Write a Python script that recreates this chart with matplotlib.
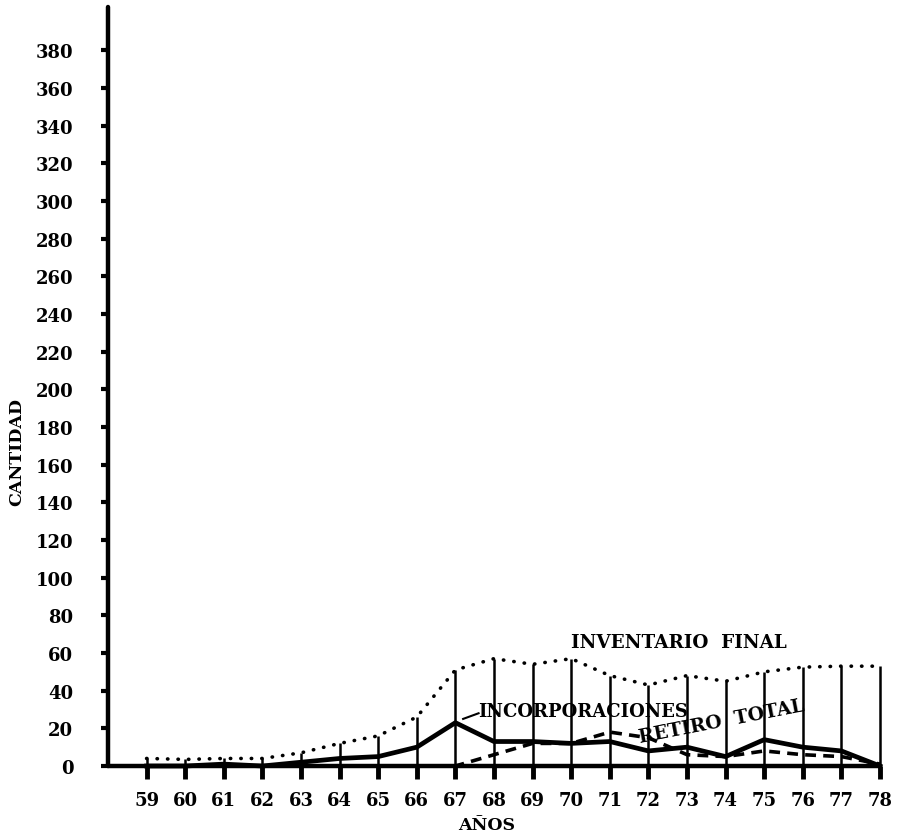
import matplotlib.pyplot as plt
import numpy as np

years = np.arange(59, 79)
year_labels = [str(y) for y in years]
inventario = [4, 3.5, 4, 4, 7, 12, 16, 26, 51, 57, 54, 57, 48, 43, 48, 45, 50, 52.5, 53, 53]
incorporaciones = [0, 0, 1, 0, 2, 4, 5, 10, 23, 13, 13, 12, 13, 8, 10, 5, 14, 10, 8, 0]
retiro = [0, 0, 0, 0, 0, 0, 0, 0, 0, 6, 12, 12, 18, 15, 6, 5, 8, 6, 5, 1]
y_ticks = np.arange(0, 381, 20)

plt.rcParams['font.family'] = ['DejaVu Serif']
plt.rcParams['font.weight'] = 'bold'

fig = plt.figure(figsize=(9.05, 8.37), dpi=100)
ax = fig.add_axes([108 / 905, 70 / 837, 772 / 905, 759 / 837])

# vertical guide lines up to the inventory curve
ax.vlines(years, 0, inventario, color='black', lw=1.8, clip_on=False)

ax.plot(years, inventario, color='black', lw=2.6,
        linestyle=(0, (0.1, 2.8)), dash_capstyle='round', clip_on=False)
ax.plot(years, incorporaciones, color='black', lw=3.4, solid_joinstyle='round',
        clip_on=False)
ax.plot(years, retiro, color='black', lw=2.6, linestyle=(0, (3, 2)), clip_on=False)

ax.set_xlim(58, 78)
ax.set_ylim(0, 403)
ax.set_xticks(years)
ax.set_xticklabels(year_labels)
ax.set_yticks(y_ticks)
ax.set_yticklabels([str(v) for v in y_ticks])

for s in ['top', 'right']:
    ax.spines[s].set_visible(False)
for s in ['left', 'bottom']:
    ax.spines[s].set_linewidth(3.2)
    ax.spines[s].set_capstyle('round')

ax.tick_params(axis='y', length=5, width=3, pad=20, labelsize=13)
ax.tick_params(axis='x', length=9, width=3.5, pad=9, labelsize=13)

ax.text(70.0, 66, 'INVENTARIO  FINAL', fontsize=13.2, ha='left', va='center')
ax.text(67.6, 29, 'INCORPORACIONES', fontsize=13, ha='left', va='center')
ax.plot([67.2, 67.6], [25, 28], color='black', lw=1.5)
ax.text(73.9, 24, 'RETIRO  TOTAL', fontsize=13.5, ha='center', va='center', rotation=11)

fig.text(487 / 905, 1 - 826 / 837, 'AÑOS', fontsize=12.5, ha='center', va='center')
fig.text(17 / 905, 1 - 452 / 837, 'CANTIDAD', fontsize=12.5, ha='center', va='center',
         rotation=90)

fig.savefig('out.png', dpi=100)
